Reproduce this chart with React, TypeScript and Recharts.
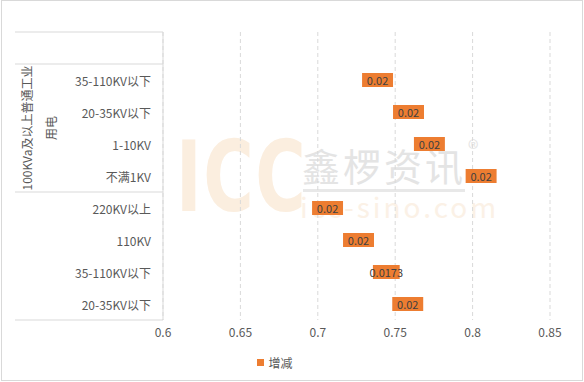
import {
  Bar,
  BarChart,
  CartesianGrid,
  LabelList,
  Legend,
  XAxis,
  YAxis,
} from "recharts"

const categories = [
  "",
  "35-110KV以下",
  "20-35KV以下",
  "1-10KV",
  "不满1KV",
  "220KV以上",
  "110KV",
  "35-110KV以下",
  "20-35KV以下",
]
const baseValues = [null, 0.7286, 0.7486, 0.7621, 0.7955, 0.6963, 0.7163, 0.7356, 0.7481]
const deltaValues = [null, 0.02, 0.02, 0.02, 0.02, 0.02, 0.02, 0.0173, 0.02]
const xTicks = [0.6, 0.65, 0.7, 0.75, 0.8, 0.85]
const groupLabel = ["100KVa及以上普通工业", "用电"]
const seriesName = "增减"

const FONT = "'Noto Sans CJK SC', 'Noto Sans', sans-serif"
const ORANGE = "#ED7D31"
const TEXT = "#595959"
const LINE = "#d9d9d9"
const ROW = 32

const chartData = categories.map((name, i) => ({
  idx: i,
  name,
  delta: deltaValues[i],
  range:
    baseValues[i] == null ? null : [baseValues[i] as number, (baseValues[i] as number) + (deltaValues[i] as number)],
}))

function CategoryTick(props: any) {
  const { y, payload } = props
  const i = payload.index ?? payload.value
  const label = categories[i]
  const top = y - ROW / 2
  const bottom = y + ROW / 2
  return (
    <g>
      {i === 0 && <line x1={15} x2={163} y1={top} y2={top} stroke={LINE} />}
      {(i === 0 || i === 4 || i === 8) && (
        <line x1={15} x2={163} y1={bottom} y2={bottom} stroke={LINE} />
      )}
      {i === 1 && (
        <g>
          <text
            transform={`translate(26, ${top + ROW * 2}) rotate(-90)`}
            textAnchor="middle"
            dominantBaseline="central"
            fontSize={12}
            fontFamily={FONT}
            fill={TEXT}
          >
            {groupLabel[0]}
          </text>
          <text
            transform={`translate(50, ${top + ROW * 2}) rotate(-90)`}
            textAnchor="middle"
            dominantBaseline="central"
            fontSize={12}
            fontFamily={FONT}
            fill={TEXT}
          >
            {groupLabel[1]}
          </text>
        </g>
      )}
      <text
        x={151}
        y={y}
        textAnchor="end"
        dominantBaseline="central"
        fontSize={12}
        fontFamily={FONT}
        fill={TEXT}
      >
        {label}
      </text>
    </g>
  )
}

function BarLabel(props: any) {
  const { x, y, width, height, value } = props
  if (value == null) return null
  return (
    <text
      x={x + width / 2}
      y={y + height / 2}
      textAnchor="middle"
      dominantBaseline="central"
      fontSize={11}
      fontFamily={FONT}
      fill="#404040"
    >
      {value}
    </text>
  )
}

function LegendContent() {
  return (
    <div
      style={{
        height: 20,
        display: "flex",
        justifyContent: "center",
        alignItems: "center",
        fontFamily: FONT,
        fontSize: 12,
        color: TEXT,
      }}
    >
      <span style={{ width: 7, height: 7, background: ORANGE, marginRight: 4 }} />
      {seriesName}
    </div>
  )
}

export default function App() {
  return (
    <div style={{ position: "absolute", left: 0, top: 0, width: 584, height: 382, background: "#fff" }}>
      {/* watermark */}
      <div style={{ position: "absolute", left: 0, top: 0, width: 584, height: 382, pointerEvents: "none" }}>
        <div
          style={{
            position: "absolute",
            left: 176,
            top: 128,
            fontFamily: "'Liberation Sans Narrow', 'DejaVu Sans Condensed', sans-serif",
            fontWeight: 700,
            fontSize: 98,
            color: "#fbeedf",
            transform: "scaleX(0.78)",
            transformOrigin: "left top",
            letterSpacing: 2,
            lineHeight: 1,
          }}
        >
          ICC
        </div>
        <div
          style={{
            position: "absolute",
            left: 302,
            top: 146,
            fontFamily: FONT,
            fontSize: 38,
            color: "#e4e4e4",
            letterSpacing: 3,
            lineHeight: 1,
            whiteSpace: "nowrap",
          }}
        >
          鑫椤资讯
        </div>
        <div style={{ position: "absolute", left: 303, top: 189, width: 162, height: 3, background: "#e8e8e8" }} />
        <div
          style={{ position: "absolute", left: 468, top: 136, fontFamily: FONT, fontSize: 22, color: "#e4e4e4", lineHeight: 1 }}
        >
          ®
        </div>
        <div
          style={{
            position: "absolute",
            left: 300,
            top: 192,
            fontFamily: FONT,
            fontSize: 28,
            color: "#fbf1e6",
            letterSpacing: 3,
            lineHeight: 1,
            whiteSpace: "nowrap",
          }}
        >
          icc-sino.com
        </div>
      </div>

      <div style={{ position: "absolute", left: 0, top: 0 }}>
        <BarChart
          width={584}
          height={382}
          data={chartData}
          layout="vertical"
          margin={{ top: 32, right: 34, left: 0, bottom: 10 }}
        >
          <CartesianGrid horizontal={false} stroke={LINE} strokeDasharray="4 3" />
          <XAxis
            type="number"
            domain={[0.6, 0.85]}
            ticks={xTicks}
            axisLine={false}
            tickLine={false}
            height={32}
            tick={{ fill: TEXT, fontSize: 12, fontFamily: FONT }}
          />
          <YAxis
            type="category"
            dataKey="idx"
            width={163}
            axisLine={{ stroke: LINE }}
            tickLine={false}
            interval={0}
            tick={<CategoryTick />}
          />
          <Legend verticalAlign="bottom" height={20} content={<LegendContent />} />
          <Bar dataKey="range" name={seriesName} fill={ORANGE} barSize={14} isAnimationActive={false}>
            <LabelList dataKey="delta" content={<BarLabel />} />
          </Bar>
        </BarChart>
      </div>

      <div
        style={{
          position: "absolute",
          left: 1,
          top: 0,
          width: 580,
          height: 379,
          border: `1px solid ${LINE}`,
          pointerEvents: "none",
        }}
      />
    </div>
  )
}
